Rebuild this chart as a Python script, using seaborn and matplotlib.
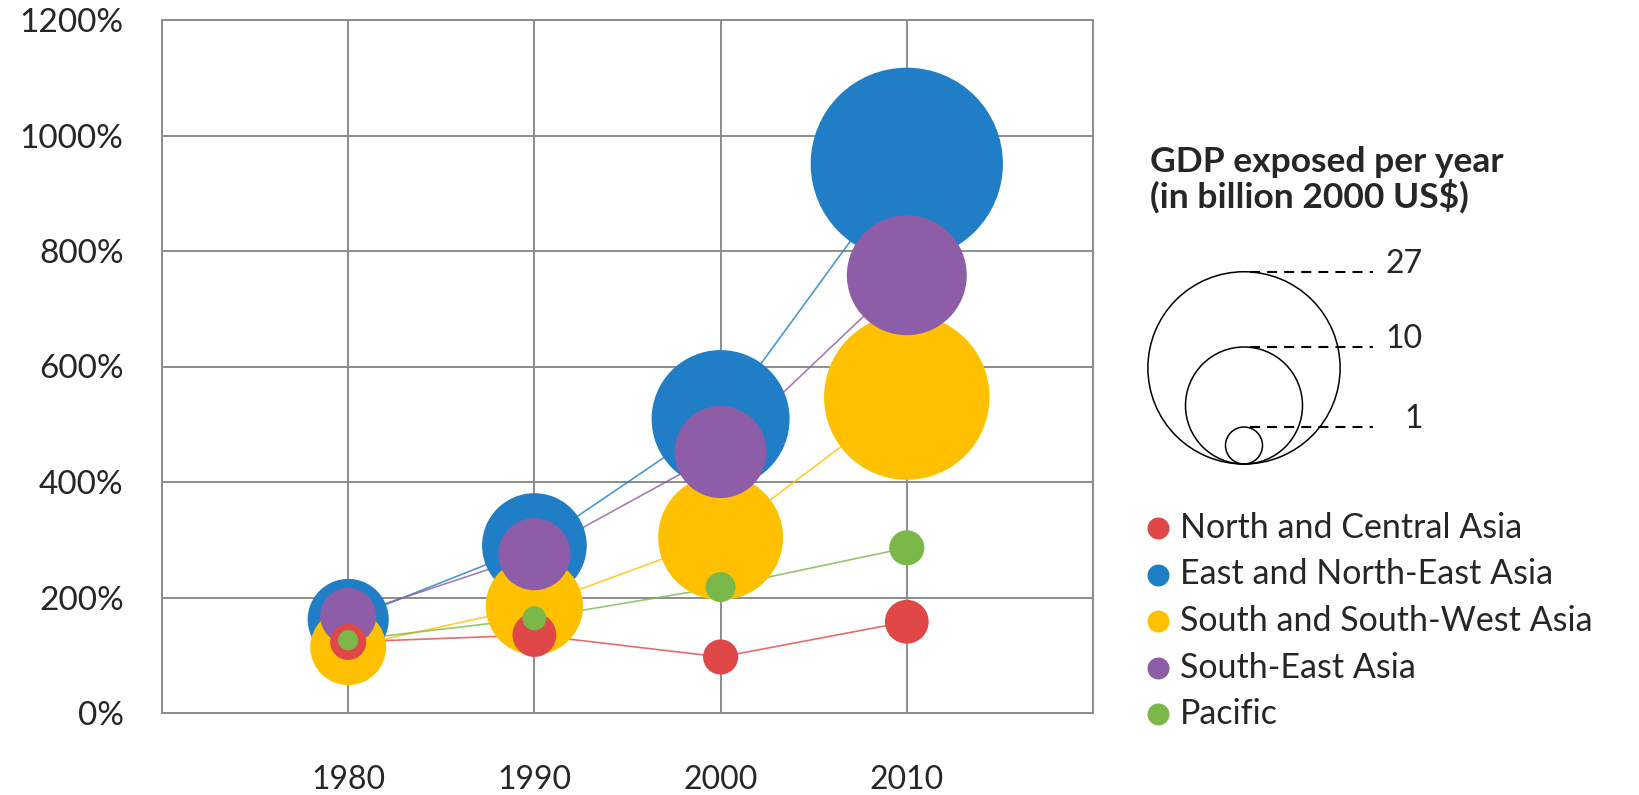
import pandas as pd
import seaborn as sns
import matplotlib.pyplot as plt

# years on the x axis
years = [1980, 1990, 2000, 2010]

regions = ['North and Central Asia', 'East and North-East Asia',
           'South and South-West Asia', 'South-East Asia', 'Pacific']
colors = ['#E04747', '#1F7EC5', '#FFC000', '#8D5DA7', '#7BB84A']

# exposure relative to 1970 (%)
exposure_north_central = [123, 135, 97, 158]
exposure_east = [162, 290, 509, 951]
exposure_south = [114, 185, 304, 547]
exposure_southeast = [168, 275, 452, 758]
exposure_pacific = [126, 164, 218, 286]

# GDP exposed per year (billion 2000 US$) -> bubble area
gdp_north_central = [0.95, 1.4, 0.9, 1.4]
gdp_east = [4.8, 8.0, 13.9, 27]
gdp_south = [4.2, 6.9, 11.4, 20]
gdp_southeast = [2.3, 3.8, 6.2, 10.5]
gdp_pacific = [0.3, 0.42, 0.66, 0.9]

legend_sizes = [27, 10, 1]

y_ticks = [0, 200, 400, 600, 800, 1000, 1200]
x_ticks = [1970, 1980, 1990, 2000, 2010, 2020]
x_labels = ['', '1980', '1990', '2000', '2010', '']

# build a long dataframe
exposure = [exposure_north_central, exposure_east, exposure_south,
            exposure_southeast, exposure_pacific]
gdp = [gdp_north_central, gdp_east, gdp_south, gdp_southeast, gdp_pacific]
rows = []
for reg, ex, g in zip(regions, exposure, gdp):
    for yr, e, v in zip(years, ex, g):
        rows.append({'year': yr, 'exposure': e, 'gdp': v, 'region': reg})
df = pd.DataFrame(rows)
# big bubbles first so the small ones stay visible on top
df_bub = df.sort_values('gdp', ascending=False)

palette = dict(zip(regions, colors))

sns.set_theme(style='white')
plt.rcParams['font.family'] = ['Lato', 'DejaVu Sans']

DPI = 100
W, H = 1639, 795
fig = plt.figure(figsize=(W / DPI, H / DPI), dpi=DPI)

# bubble scale: radius in px per sqrt(billion)
R_PX = 18.5
S_PER_UNIT = (2 * R_PX * 72 / DPI) ** 2   # marker area (pt^2) per billion
max_gdp = max(legend_sizes)

grid_col = '#8c8c8c'
text_col = '#262626'

ax = fig.add_axes([162 / W, 1 - 713 / H, (1093 - 162) / W, (713 - 20) / H])

sns.lineplot(data=df, x='year', y='exposure', hue='region', palette=palette,
             hue_order=regions, linewidth=1.2, alpha=0.8, legend=False,
             ax=ax, zorder=2)
sns.scatterplot(data=df_bub, x='year', y='exposure', hue='region',
                palette=palette, size='gdp', sizes=(0, S_PER_UNIT * max_gdp),
                size_norm=(0, max_gdp), linewidth=0, alpha=1, legend=False,
                ax=ax, zorder=3, clip_on=False)

ax.set_xlim(1970, 2020)
ax.set_ylim(0, 1200)
ax.set_xticks(x_ticks)
ax.set_xticklabels(x_labels)
ax.set_yticks(y_ticks)
ax.set_yticklabels([f'{v}%' for v in y_ticks])
ax.set_xlabel('')
ax.set_ylabel('')
ax.grid(True, color=grid_col, linewidth=1.4)
ax.set_axisbelow(True)
for sp in ax.spines.values():
    sp.set_color(grid_col)
    sp.set_linewidth(1.4)
ax.tick_params(axis='both', direction='out', length=8.6, width=1.4,
               color=grid_col, labelcolor=text_col)
ax.tick_params(axis='x', pad=29, labelsize=23)
ax.tick_params(axis='y', pad=19, labelsize=24)

# overlay in pixel coordinates for the legends
lax = fig.add_axes([0, 0, 1, 1])
lax.set_xlim(0, W)
lax.set_ylim(H, 0)
lax.axis('off')

lax.text(1150, 162, 'GDP exposed per year', fontsize=25.5, fontweight='bold',
         color=text_col, va='center', ha='left')
lax.text(1150, 196, '(in billion 2000 US$)', fontsize=25.5, fontweight='bold',
         color=text_col, va='center', ha='left')

# size legend: nested circles resting on a common base
cx, base = 1244, 464
for v in legend_sizes:
    r = R_PX * v ** 0.5
    top = base - 2 * r
    lax.scatter([cx], [base - r], s=S_PER_UNIT * v, facecolors='none',
                edgecolors='black', linewidths=1.1)
    lax.plot([1250, 1373], [top, top], color='black', linewidth=1.5,
             linestyle=(0, (4.8, 3.4)))
    lax.text(1423, top + 1, str(v), fontsize=23, color=text_col,
             ha='right', va='baseline')

# colour legend
for i, (reg, col) in enumerate(zip(regions, colors)):
    y = 528 + 46.5 * i
    lax.scatter([1158], [y], s=250, color=col, linewidths=0)
    lax.text(1180, y, reg, fontsize=24.5, color=text_col, va='center',
             ha='left')

plt.savefig('out.png', dpi=DPI)
